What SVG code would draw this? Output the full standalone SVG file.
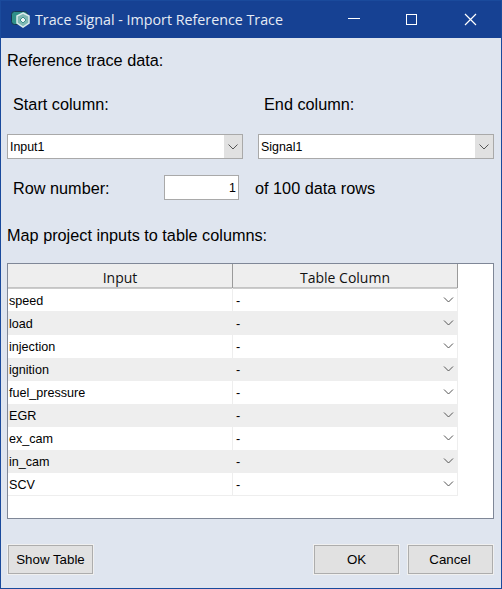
<svg xmlns="http://www.w3.org/2000/svg" width="502" height="589" viewBox="0 0 502 589">
<style>
.l{font-family:"Liberation Sans",Arial,sans-serif;font-size:16.250px;fill:#000}
.s{font-family:"Liberation Sans",Arial,sans-serif;font-size:12.600px;fill:#000}
.d{font-family:"Liberation Sans",Arial,sans-serif;font-size:12.400px;fill:#000}
.b{font-family:"Liberation Sans",Arial,sans-serif;font-size:13.300px;fill:#000;text-anchor:middle}
.h{font-family:"Open Sans","Noto Sans",sans-serif;font-size:14px;fill:#111;text-anchor:middle}
.chev{fill:none;stroke:#555;stroke-width:1}
.btn{fill:#e1e1e1;stroke:#adadad;stroke-width:1}
.halo{fill:none;stroke:#f0f0f0;stroke-width:1}
.field{fill:#fff;stroke:#a9a9a9;stroke-width:1}
.alt{fill:#eeeeee}
</style>
<rect id="frame" x="0" y="0" width="502" height="589" fill="#1a4a9c"/>
<rect id="body" x="1" y="38" width="500" height="550" fill="#dfe5ef"/>
<g id="titlebar">
<rect x="1" y="1" width="500" height="37" fill="#164193"/>
<g id="app-icon">
<rect x="11.500" y="11.500" width="16" height="13" rx="3" fill="#2f8f88" stroke="#17354f"/>
<path d="M23 13 L29 16 L29 23 L23 27 L17 23 L17 16 Z" fill="#7fb8b4" stroke="#dcecec" stroke-width="1.500"/>
<path d="M23 17 L26 20 L23 23 L20 20 Z" fill="#eef5f5" stroke="#3d8f8c"/>
</g>
<text x="35" y="25" font-family="'Open Sans','Noto Sans',sans-serif" font-size="14.270" fill="#e6ecf5">Trace Signal - Import Reference Trace</text>
<path d="M348 18.500 H360" stroke="#fff" fill="none"/>
<rect x="406.500" y="14.500" width="10" height="10" fill="none" stroke="#fff"/>
<path d="M465 14 L476 25 M476 14 L465 25" stroke="#fff" fill="none" stroke-width="1.200"/>
</g>
<text class="l" x="7" y="66">Reference trace data:</text>
<text class="l" x="13" y="110">Start column:</text>
<text class="l" x="264" y="110">End column:</text>
<g id="start-column">
<rect class="field" x="7.500" y="134.500" width="235" height="24"/>
<rect x="224" y="135" width="18" height="23" fill="#e1e1e1"/>
<path class="chev" d="M228.500 144.500 L233 149 L237.500 144.500"/>
<text class="d" x="10" y="151">Input1</text>
</g>
<g id="end-column">
<rect class="field" x="258.500" y="134.500" width="235" height="24"/>
<rect x="475" y="135" width="18" height="23" fill="#e1e1e1"/>
<path class="chev" d="M479.500 144.500 L484 149 L488.500 144.500"/>
<text class="d" x="261" y="151">Signal1</text>
</g>
<text class="l" x="13" y="194">Row number:</text>
<g id="row-number">
<rect class="field" x="164.500" y="175.500" width="74" height="24"/>
<text class="d" x="236" y="192" text-anchor="end">1</text>
</g>
<text class="l" x="255" y="194">of 100 data rows</text>
<text class="l" x="7" y="241">Map project inputs to table columns:</text>
<g id="table">
<rect x="7.500" y="263.500" width="486" height="255" fill="#fff" stroke="#7f8797"/>
<rect x="8" y="264" width="449" height="24" fill="#eeeeee"/>
<path d="M8 288 H457.500 V264 M232.500 264 V288" fill="none" stroke="#9a9a9a"/>
<text class="h" x="120" y="283">Input</text>
<text class="h" x="345" y="283">Table Column</text>
<rect class="alt" x="8" y="311" width="450" height="24"/>
<rect class="alt" x="8" y="358" width="450" height="23"/>
<rect class="alt" x="8" y="404" width="450" height="23"/>
<rect class="alt" x="8" y="450" width="450" height="23"/>
<path d="M232.500 288 V495 M457.500 288 V495 M8 495.500 H458" stroke="#eeeeee" fill="none"/>
<g id="rows">
<text class="s" x="9" y="305">speed</text><text class="s" x="236" y="305">-</text><path class="chev" d="M444 297.500 L448.500 302 L453 297.500"/>
<text class="s" x="9" y="328">load</text><text class="s" x="236" y="328">-</text><path class="chev" d="M444 320.500 L448.500 325 L453 320.500"/>
<text class="s" x="9" y="351">injection</text><text class="s" x="236" y="351">-</text><path class="chev" d="M444 343.500 L448.500 348 L453 343.500"/>
<text class="s" x="9" y="374">ignition</text><text class="s" x="236" y="374">-</text><path class="chev" d="M444 366.500 L448.500 371 L453 366.500"/>
<text class="s" x="9" y="397">fuel_pressure</text><text class="s" x="236" y="397">-</text><path class="chev" d="M444 389.500 L448.500 394 L453 389.500"/>
<text class="s" x="9" y="420">EGR</text><text class="s" x="236" y="420">-</text><path class="chev" d="M444 412.500 L448.500 417 L453 412.500"/>
<text class="s" x="9" y="443">ex_cam</text><text class="s" x="236" y="443">-</text><path class="chev" d="M444 435.500 L448.500 440 L453 435.500"/>
<text class="s" x="9" y="466">in_cam</text><text class="s" x="236" y="466">-</text><path class="chev" d="M444 458.500 L448.500 463 L453 458.500"/>
<text class="s" x="9" y="489">SCV</text><text class="s" x="236" y="489">-</text><path class="chev" d="M444 481.500 L448.500 486 L453 481.500"/>
</g>
</g>
<g id="show-table">
<rect class="halo" x="7.500" y="544.500" width="86" height="30"/>
<rect class="btn" x="8.500" y="545.500" width="84" height="28"/>
<text class="b" x="50.500" y="564">Show Table</text>
</g>
<g id="ok">
<rect class="halo" x="313.500" y="544.500" width="86" height="30"/>
<rect class="btn" x="314.500" y="545.500" width="84" height="28"/>
<text class="b" x="356.500" y="564">OK</text>
</g>
<g id="cancel">
<rect class="halo" x="407.500" y="544.500" width="86" height="30"/>
<rect class="btn" x="408.500" y="545.500" width="84" height="28"/>
<text class="b" x="450" y="564">Cancel</text>
</g>
</svg>
